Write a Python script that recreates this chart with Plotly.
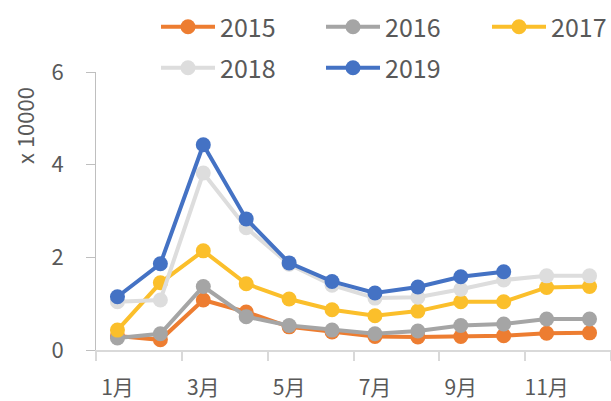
import plotly.graph_objects as go

months = [1, 2, 3, 4, 5, 6, 7, 8, 9, 10, 11, 12]
tick_vals = [1, 3, 5, 7, 9, 11]
tick_text = ["1月", "3月", "5月", "7月", "9月", "11月"]

y2015 = [0.30, 0.22, 1.08, 0.82, 0.50, 0.39, 0.29, 0.28, 0.29, 0.31, 0.36, 0.37]
y2016 = [0.26, 0.35, 1.37, 0.72, 0.53, 0.43, 0.35, 0.41, 0.53, 0.56, 0.67, 0.67]
y2017 = [0.43, 1.45, 2.14, 1.43, 1.10, 0.87, 0.74, 0.84, 1.04, 1.04, 1.35, 1.37]
y2018 = [1.04, 1.08, 3.82, 2.64, 1.85, 1.40, 1.12, 1.14, 1.31, 1.51, 1.60, 1.60]
y2019 = [1.15, 1.86, 4.43, 2.83, 1.88, 1.48, 1.23, 1.36, 1.58, 1.69]

series = [
    ("2015", y2015, "#ED7D31", "legend2"),
    ("2016", y2016, "#A5A5A5", "legend3"),
    ("2017", y2017, "#FBBF2B", "legend4"),
    ("2018", y2018, "#DDDDDD", "legend5"),
    ("2019", y2019, "#4472C4", "legend6"),
]

FONT = "Noto Sans CJK SC"
TXT = "#595959"

fig = go.Figure()
for name, vals, color, lg in series:
    fig.add_trace(go.Scatter(
        x=months[:len(vals)], y=vals, name=name, mode="lines+markers",
        line=dict(color=color, width=4),
        marker=dict(color=color, size=15),
        legend=lg,
    ))

def leg(x, y):
    return dict(
        x=x, y=y, xref="container", yref="container",
        orientation="h", xanchor="left", yanchor="middle",
        font=dict(family=FONT, size=25, color=TXT),
        itemwidth=54,
        bgcolor="rgba(0,0,0,0)", borderwidth=0,
    )

row1 = 1 - 27 / 401
row2 = 1 - 68 / 401
col1 = 156 / 611
col2 = 321 / 611
col3 = 487 / 611

fig.update_layout(
    width=611, height=401,
    margin=dict(l=96, r=0, t=72, b=51, autoexpand=False),
    plot_bgcolor="white", paper_bgcolor="white",
    font=dict(family=FONT, color=TXT),
    showlegend=True,
    legend2=leg(col1, row1),
    legend3=leg(col2, row1),
    legend4=leg(col3, row1),
    legend5=leg(col1, row2),
    legend6=leg(col2, row2),
    xaxis=dict(
        range=[0.5, 12.5], tickvals=tick_vals, ticktext=tick_text,
        ticks="", showgrid=False, zeroline=False, automargin=False,
        showline=True, linecolor="#D9D9D9", linewidth=2,
        tickfont=dict(family=FONT, size=21, color=TXT),
        ticklabelstandoff=18,
        minor=dict(tickvals=[0.5, 2.5, 4.5, 6.5, 8.5, 10.5, 12.5],
                   ticks="outside", ticklen=9, tickwidth=2, tickcolor="#D9D9D9",
                   showgrid=False),
    ),
    yaxis=dict(
        range=[0, 6], tickvals=[0, 2, 4, 6], showgrid=False, zeroline=False,
        automargin=False,
        showline=True, linecolor="#BFBFBF", linewidth=1,
        ticks="outside", ticklen=9, tickcolor="#BFBFBF", tickwidth=1,
        tickfont=dict(family=FONT, size=22, color=TXT),
        ticklabelstandoff=18,
    ),
    annotations=[dict(
        text="x 10000", textangle=-90, xref="paper", yref="paper",
        x=(24 - 96) / 515, y=(350 - 126) / 278, showarrow=False,
        xanchor="center", yanchor="middle",
        font=dict(family=FONT, size=22, color=TXT),
    )],
)

fig.write_html("out.html", config={"displayModeBar": False},
               post_script="document.body.style.margin='0px';")
